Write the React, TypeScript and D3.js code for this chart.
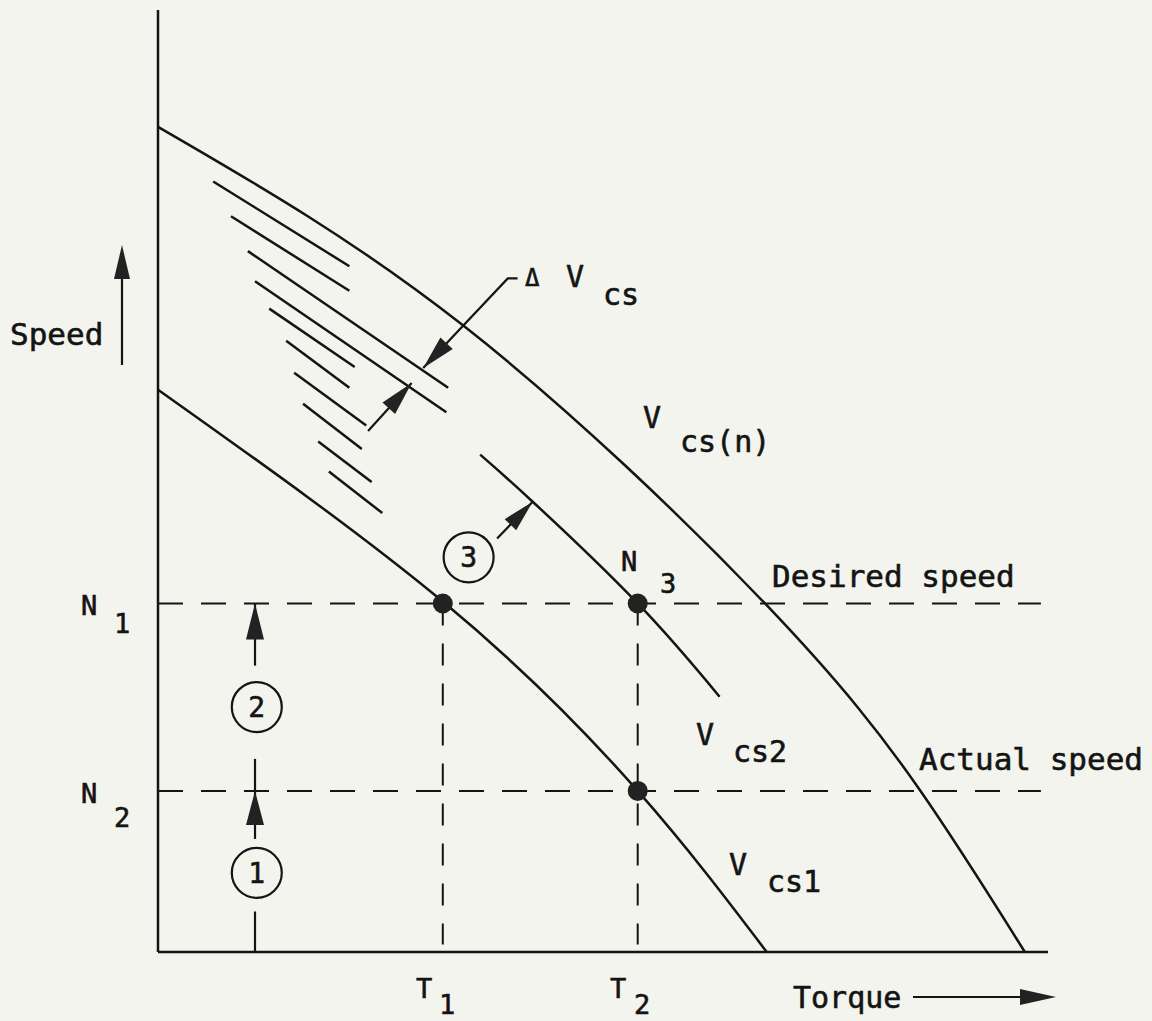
import React from 'react';
import * as d3 from 'd3';

const W = 1152;
const H = 1021;

// Torque (x) and speed (y) in relative units 0..100
const vcsNTorque = [0, 34.3, 68.2, 85.6, 97.4];
const vcsNSpeed = [87.6, 66.5, 37.0, 17.2, 0];

const vcs1Torque = [0, 32.0, 53.9, 68.4];
const vcs1Speed = [59.7, 37.2, 17.1, 0];

const vcs2Torque = [36.2, 42.1, 53.9, 63.1];
const vcs2Speed = [52.8, 47.8, 37.0, 27.1];

// intermediate control-speed hatch lines: [t1, s1, t2, s2]
const hatchLines = [
  [6.2, 81.8, 21.5, 72.8],
  [8.2, 78.1, 21.5, 70.2],
  [10.1, 74.4, 32.6, 59.9],
  [10.9, 71.2, 32.4, 57.3],
  [12.5, 68.3, 22.1, 62.1],
  [14.4, 64.9, 21.5, 59.9],
  [15.3, 61.5, 23.4, 55.9],
  [16.3, 58.2, 22.9, 53.4],
  [18.0, 54.2, 24.0, 49.9],
  [19.2, 51.0, 25.2, 46.6],
];

const speedLevels = [37.0, 17.1]; // N1, N2
const torqueLevels = [32.0, 53.9]; // T1, T2
const operatingPoints = [
  [32.0, 37.0],
  [53.9, 37.0],
  [53.9, 17.1],
];

const INK = '#141414';
const FONT = "'DejaVu Sans Mono', monospace";

function head(tip: number[], from: number[], len = 32, w = 16) {
  const dx = tip[0] - from[0];
  const dy = tip[1] - from[1];
  const d = Math.hypot(dx, dy);
  const ux = dx / d, uy = dy / d;
  const bx = tip[0] - ux * len, by = tip[1] - uy * len;
  const nx = -uy, ny = ux;
  return `${tip[0]},${tip[1]} ${bx + nx * w / 2},${by + ny * w / 2} ${bx - nx * w / 2},${by - ny * w / 2}`;
}

export default function App() {
  const x = d3.scaleLinear().domain([0, 100]).range([158, 1048]);
  const y = d3.scaleLinear().domain([0, 100]).range([952, 10]);

  const line = d3
    .line<[number, number]>()
    .x((d) => x(d[0]))
    .y((d) => y(d[1]))
    .curve(d3.curveNatural);

  const zip = (a: number[], b: number[]) => a.map((v, i) => [v, b[i]] as [number, number]);

  const P = (t: number, s: number) => [x(t), y(s)];

  // annotation geometry in data units
  const dLeader = [P(40.4, 71.5), P(39.3, 71.5), P(29.8, 62.0)];
  const dArrow2 = [P(23.6, 55.3), P(28.5, 60.4)];
  const arrow3 = [P(38.1, 43.9), P(42.1, 47.8)];
  const circles = [
    { t: 11.1, s: 8.4, label: '1' },
    { t: 11.1, s: 26.0, label: '2' },
    { t: 34.9, s: 41.9, label: '3' },
  ];
  const stepX = x(10.9);

  const text = (props: any, content: string, size = 30) => (
    <text fontFamily={FONT} fontSize={size} fill={INK} stroke={INK} strokeWidth={0.6} {...props}>
      {content}
    </text>
  );

  return (
    <svg
      width={W}
      height={H}
      style={{ position: 'absolute', left: 0, top: 0, display: 'block', background: '#f3f4ee' }}
    >
      <rect x={0} y={0} width={W} height={H} fill="#f3f4ee" />
      {/* axes */}
      <line x1={x(0)} y1={y(100)} x2={x(0)} y2={y(0)} stroke={INK} strokeWidth={2.5} />
      <line x1={x(0)} y1={y(0)} x2={x(100)} y2={y(0)} stroke={INK} strokeWidth={2.5} />

      {/* dashed reference lines */}
      {speedLevels.map((s, i) => (
        <line key={'h' + i} x1={x(0)} y1={y(s)} x2={x(99.2)} y2={y(s)} stroke={INK} strokeWidth={2} strokeDasharray="25 18" />
      ))}
      {torqueLevels.map((t, i) => (
        <line key={'v' + i} x1={x(t)} y1={y(37.0)} x2={x(t)} y2={y(0.8)} stroke={INK} strokeWidth={2} strokeDasharray="22 18" />
      ))}

      {/* curves */}
      <path d={line(zip(vcsNTorque, vcsNSpeed)) || ''} fill="none" stroke={INK} strokeWidth={2.5} />
      <path d={line(zip(vcs1Torque, vcs1Speed)) || ''} fill="none" stroke={INK} strokeWidth={2.5} />
      <path d={line(zip(vcs2Torque, vcs2Speed)) || ''} fill="none" stroke={INK} strokeWidth={2.5} />

      {hatchLines.map((h, i) => (
        <line key={'hl' + i} x1={x(h[0])} y1={y(h[1])} x2={x(h[2])} y2={y(h[3])} stroke={INK} strokeWidth={2.5} />
      ))}

      {/* operating points */}
      {operatingPoints.map((p, i) => (
        <circle key={'p' + i} cx={x(p[0])} cy={y(p[1])} r={10} fill="#222" />
      ))}

      {/* delta Vcs annotation */}
      <polyline points={dLeader.map((p) => p.join(',')).join(' ')} fill="none" stroke={INK} strokeWidth={2.2} />
      <polygon points={head(dLeader[2], dLeader[1], 34, 17)} fill="#222" />
      <line x1={dArrow2[0][0]} y1={dArrow2[0][1]} x2={dArrow2[1][0]} y2={dArrow2[1][1]} stroke={INK} strokeWidth={2.2} />
      <polygon points={head(dArrow2[1], dArrow2[0], 34, 17)} fill="#222" />

      {/* step 3 arrow */}
      <line x1={arrow3[0][0]} y1={arrow3[0][1]} x2={arrow3[1][0]} y2={arrow3[1][1]} stroke={INK} strokeWidth={2.2} />
      <polygon points={head(arrow3[1], arrow3[0], 32, 16)} fill="#222" />

      {/* step 1 & 2 vertical arrows */}
      <line x1={stepX} y1={y(0)} x2={stepX} y2={y(4.3)} stroke={INK} strokeWidth={2.2} />
      <line x1={stepX} y1={y(12.0)} x2={stepX} y2={y(20.5)} stroke={INK} strokeWidth={2.2} />
      <polygon points={head([stepX, y(17.1)], [stepX, y(10)], 34, 18)} fill="#222" />
      <line x1={stepX} y1={y(30.4)} x2={stepX} y2={y(37.0)} stroke={INK} strokeWidth={2.2} />
      <polygon points={head([stepX, y(37.0)], [stepX, y(28)], 36, 18)} fill="#222" />

      {circles.map((c, i) => (
        <g key={'c' + i}>
          <circle cx={x(c.t)} cy={y(c.s)} r={25} fill="none" stroke={INK} strokeWidth={2.2} />
          <text x={x(c.t)} y={y(c.s) + 10} textAnchor="middle" fontFamily={FONT} fontSize={28} fill={INK} stroke={INK} strokeWidth={0.6}>
            {c.label}
          </text>
        </g>
      ))}

      {/* axis arrows */}
      <line x1={122} y1={365} x2={122} y2={262} stroke={INK} strokeWidth={2.2} />
      <polygon points={head([122, 245], [122, 365], 34, 16)} fill="#222" />
      <line x1={913} y1={997} x2={1030} y2={997} stroke={INK} strokeWidth={2.2} />
      <polygon points={head([1056, 997], [913, 997], 36, 16)} fill="#222" />

      {/* labels */}
      {text({ x: 10, y: 345 }, 'Speed', 31)}
      {text({ x: 793, y: 1008 }, 'Torque', 30)}
      {text({ x: 416, y: 998 }, 'T', 27)}
      {text({ x: 439, y: 1014 }, '1', 27)}
      {text({ x: 610, y: 998 }, 'T', 27)}
      {text({ x: 634, y: 1014 }, '2', 27)}
      {text({ x: 81, y: 615 }, 'N', 27)}
      {text({ x: 114, y: 633 }, '1', 27)}
      {text({ x: 81, y: 803 }, 'N', 27)}
      {text({ x: 114, y: 827 }, '2', 27)}
      {text({ x: 621, y: 571 }, 'N', 27)}
      {text({ x: 660, y: 593 }, '3', 27)}
      {text({ x: 525, y: 286 }, 'Δ', 24)}
      {text({ x: 566, y: 287 }, 'V', 30)}
      {text({ x: 603, y: 305 }, 'cs', 30)}
      {text({ x: 643, y: 428 }, 'V', 30)}
      {text({ x: 680, y: 452 }, 'cs(n)', 30)}
      {text({ x: 696, y: 745 }, 'V', 30)}
      {text({ x: 733, y: 762 }, 'cs2', 30)}
      {text({ x: 729, y: 875 }, 'V', 30)}
      {text({ x: 767, y: 892 }, 'cs1', 30)}
      {text({ x: 772, y: 587 }, 'Desired speed', 31)}
      {text({ x: 919, y: 770 }, 'Actual speed', 31)}
    </svg>
  );
}
